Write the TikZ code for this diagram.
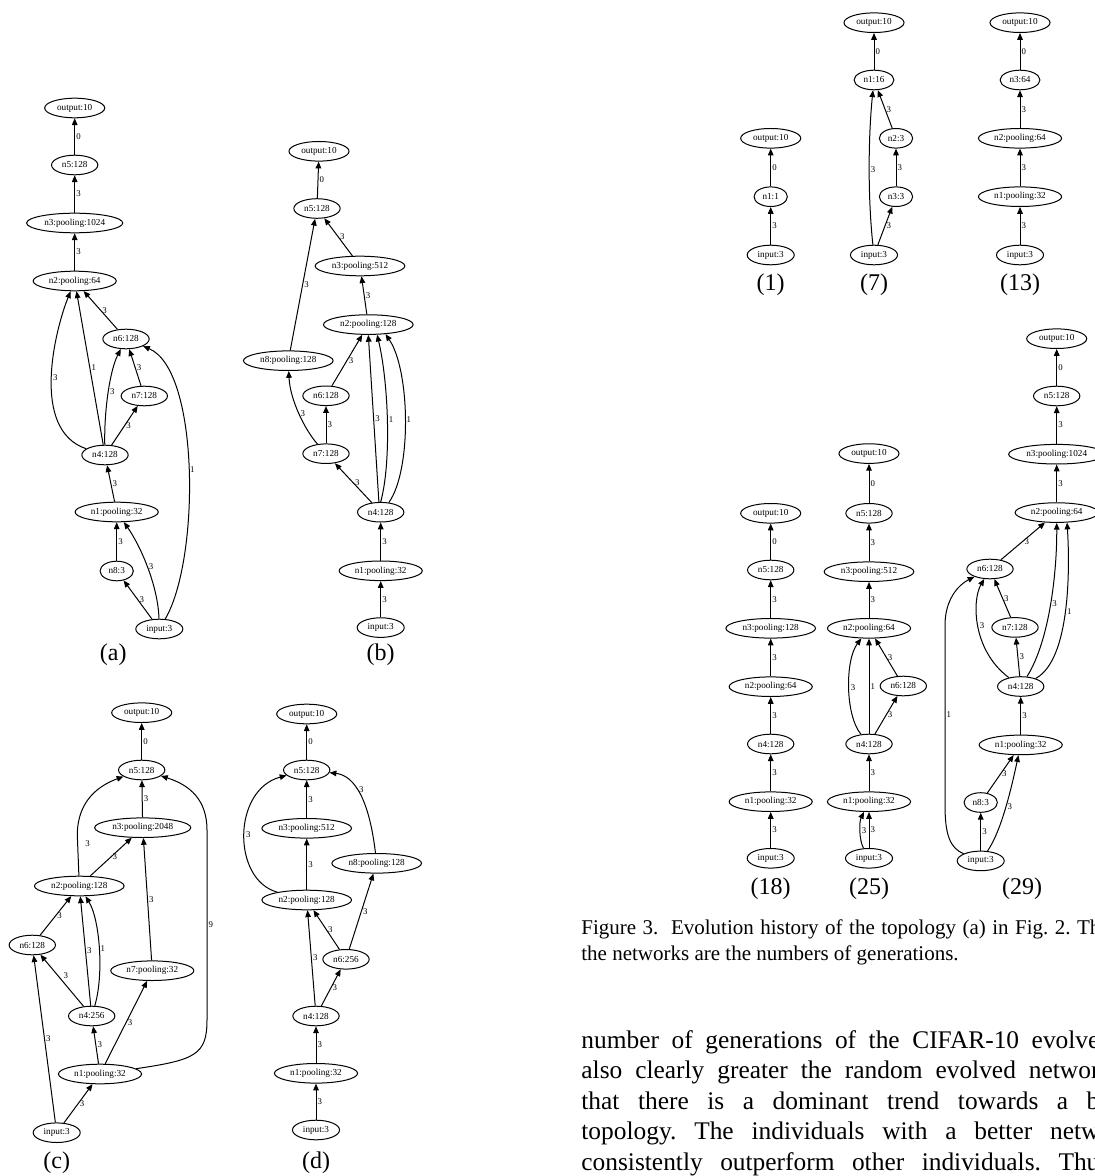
\documentclass[tikz,border=0pt]{standalone}
\usepackage{fontspec}
\setmainfont{Liberation Serif}
\usetikzlibrary{shapes.geometric,arrows.meta}
\frenchspacing

\begin{document}
\begin{tikzpicture}[x=0.5pt,y=-0.5pt,
  nd/.style={draw,ellipse,line width=0.5pt,inner xsep=1.8pt,inner ysep=0pt,minimum height=9.8pt,font=\fontsize{4.6}{5}\selectfont},
  lnk/.style={-{Triangle[length=3.4pt,width=2.8pt]},line width=0.5pt},
  wt/.style={anchor=west,inner sep=0.6pt,font=\fontsize{4.4}{5}\selectfont},
  sub/.style={inner sep=0pt,font=\fontsize{12}{14}\selectfont},
  captxt/.style={anchor=base west,inner sep=0pt,font=\fontsize{10.5}{12}\selectfont},
  bodytxt/.style={anchor=base west,inner sep=0pt,font=\fontsize{12.7}{14}\selectfont}]
\useasboundingbox (0,0) rectangle (1095,1176);
\clip (0,0) rectangle (1095,1176);

% (a)
\node[nd] (a-out) at (74.7,108) {output:10};
\node[nd] (a-n5) at (74.7,165) {n5:128};
\node[nd] (a-n3) at (74.7,223) {n3:pooling:1024};
\node[nd] (a-n2) at (74.7,281) {n2:pooling:64};
\node[nd] (a-n6) at (126,339) {n6:128};
\node[nd] (a-n7) at (144.3,396) {n7:128};
\node[nd] (a-n4) at (105,455) {n4:128};
\node[nd] (a-n1) at (116.7,512) {n1:pooling:32};
\node[nd] (a-n8) at (116.7,571) {n8:3};
\node[nd] (a-in) at (159.3,629) {input:3};
\node[sub] (a-lbl) at (113.3,655) {(a)};
\draw[lnk] (a-n5) -- node[wt]{0} (a-out);
\draw[lnk] (a-n3) -- node[wt]{3} (a-n5);
\draw[lnk] (a-n2) -- node[wt]{3} (a-n3);
\draw[lnk] (a-n6) -- node[wt]{3} (a-n2);
\draw[lnk] (a-n4) .. controls (30,430) and (55,330) .. node[wt]{3} (a-n2);
\draw[lnk] (a-n4) -- node[wt]{1} (a-n2);
\draw[lnk] (a-n4) .. controls (104,410) and (110,370) .. node[wt]{3} (a-n6);
\draw[lnk] (a-n7) -- node[wt]{3} (a-n6);
\draw[lnk] (a-n4) -- node[wt]{3} (a-n7);
\draw[lnk] (a-in) .. controls (200,560) and (200,370) .. node[wt]{1} (a-n6);
\draw[lnk] (a-n1) -- node[wt]{3} (a-n4);
\draw[lnk] (a-n8) -- node[wt]{3} (a-n1);
\draw[lnk] (a-in) .. controls (158,585) and (140,545) .. node[wt]{3} (a-n1);
\draw[lnk] (a-in) -- node[wt]{3} (a-n8);

% (b)
\node[nd] (b-out) at (319,151.3) {output:10};
\node[nd] (b-n5) at (317,208.5) {n5:128};
\node[nd] (b-n3) at (360,266) {n3:pooling:512};
\node[nd] (b-n2) at (368.3,324.6) {n2:pooling:128};
\node[nd] (b-n8) at (288.3,360.7) {n8:pooling:128};
\node[nd] (b-n6) at (326,395.8) {n6:128};
\node[nd] (b-n7) at (326,453.7) {n7:128};
\node[nd] (b-n4) at (380.7,512.2) {n4:128};
\node[nd] (b-n1) at (380.7,570.8) {n1:pooling:32};
\node[nd] (b-in) at (380.7,627.6) {input:3};
\node[sub] (b-lbl) at (380.7,655) {(b)};
\draw[lnk] (b-n5) -- node[wt]{0} (b-out);
\draw[lnk] (b-n3) -- node[wt]{3} (b-n5);
\draw[lnk] (b-n2) -- node[wt]{3} (b-n3);
\draw[lnk] (b-n8) -- node[wt]{3} (b-n5);
\draw[lnk] (b-n6) -- node[wt]{3} (b-n2);
\draw[lnk] (b-n7) .. controls (305,430) and (290,400) .. node[wt]{3} (b-n8);
\draw[lnk] (b-n7) -- node[wt]{3} (b-n6);
\draw[lnk] (b-n4) -- node[wt]{3} (b-n7);
\draw[lnk] (b-n4.100) -- node[wt]{3} (b-n2.south);
\draw[lnk] (b-n4.north) .. controls (392,460) and (388,380) .. node[wt]{1} (b-n2.-49);
\draw[lnk] (b-n4.50) .. controls (412,470) and (410,370) .. node[wt]{1} (b-n2.-29);
\draw[lnk] (b-n1) -- node[wt]{3} (b-n4);
\draw[lnk] (b-in) -- node[wt]{3} (b-n1);

% (c)
\node[nd] (c-out) at (141.7,712.7) {output:10};
\node[nd] (c-n5) at (141.7,770) {n5:128};
\node[nd] (c-n3) at (142.7,827.7) {n3:pooling:2048};
\node[nd] (c-n2) at (79.3,886) {n2:pooling:128};
\node[nd] (c-n6) at (32.3,945) {n6:128};
\node[nd] (c-n7) at (152.3,970.7) {n7:pooling:32};
\node[nd] (c-n4) at (91.7,1016) {n4:256};
\node[nd] (c-n1) at (100,1074) {n1:pooling:32};
\node[nd] (c-in) at (56.7,1132.7) {input:3};
\node[sub] (c-lbl) at (56.7,1163) {(c)};
\draw[lnk] (c-n5) -- node[wt]{0} (c-out);
\draw[lnk] (c-n3) -- node[wt]{3} (c-n5);
\draw[lnk] (c-n2) -- node[wt,pos=.8,xshift=3pt]{3} (77.3,835) .. controls (77.3,800) and (100,785) .. (c-n5);
\draw[lnk] (c-n2) -- node[wt]{3} (c-n3);
\draw[lnk] (c-n6) -- node[wt]{3} (c-n2);
\draw[lnk] (c-n4) -- node[wt]{3} (c-n2);
\draw[lnk] (c-n4) .. controls (104,975) and (100,920) .. node[wt]{1} (c-n2);
\draw[lnk] (c-n4) -- node[wt,anchor=south west]{3} (c-n6);
\draw[lnk] (c-n7) -- node[wt]{3} (c-n3);
\draw[lnk] (c-n1) -- node[wt]{3} (c-n4);
\draw[lnk] (c-n1) -- node[wt]{3} (c-n7);
\draw[lnk] (c-n1) .. controls (195,1060) and (207,1055) .. (207,1020) -- node[wt]{9} (207,830) .. controls (207,800) and (190,785) .. (c-n5);
\draw[lnk] (c-in) -- node[wt]{3} (c-n6);
\draw[lnk] (c-in) -- node[wt]{3} (c-n1);

% (d)
\node[nd] (d-out) at (306.7,714) {output:10};
\node[nd] (d-n5) at (306.7,770) {n5:128};
\node[nd] (d-n3) at (306.7,828.3) {n3:pooling:512};
\node[nd] (d-n8) at (376.7,863.3) {n8:pooling:128};
\node[nd] (d-n2) at (306.7,900) {n2:pooling:128};
\node[nd] (d-n6) at (346,959.3) {n6:256};
\node[nd] (d-n4) at (316,1016) {n4:128};
\node[nd] (d-n1) at (316,1073.3) {n1:pooling:32};
\node[nd] (d-in) at (316,1130) {input:3};
\node[sub] (d-lbl) at (316,1163) {(d)};
\draw[lnk] (d-n5) -- node[wt]{0} (d-out);
\draw[lnk] (d-n3) -- node[wt]{3} (d-n5);
\draw[lnk] (d-n2) -- node[wt]{3} (d-n3);
\draw[lnk] (d-n2) .. controls (232,880) and (232,790) .. node[wt]{3} (d-n5);
\draw[lnk] (d-n8) .. controls (368,790) and (350,775) .. node[wt]{3} (d-n5);
\draw[lnk] (d-n6) -- node[wt]{3} (d-n2);
\draw[lnk] (d-n6) -- node[wt]{3} (d-n8);
\draw[lnk] (d-n4) -- node[wt]{3} (d-n2);
\draw[lnk] (d-n4) -- node[wt]{3} (d-n6);
\draw[lnk] (d-n1) -- node[wt]{3} (d-n4);
\draw[lnk] (d-in) -- node[wt]{3} (d-n1);

% (1)
\node[nd] (g1-out) at (770.7,138.3) {output:10};
\node[nd] (g1-n1) at (770.7,196.7) {n1:1};
\node[nd] (g1-in) at (770.7,255) {input:3};
\node[sub] (g1-lbl) at (770.7,285) {(1)};
\draw[lnk] (g1-n1) -- node[wt]{0} (g1-out);
\draw[lnk] (g1-in) -- node[wt]{3} (g1-n1);

% (7)
\node[nd] (g7-out) at (874,22.7) {output:10};
\node[nd] (g7-n1) at (874,80) {n1:16};
\node[nd] (g7-n2) at (896,138.3) {n2:3};
\node[nd] (g7-n3) at (896,196.7) {n3:3};
\node[nd] (g7-in) at (874,255) {input:3};
\node[sub] (g7-lbl) at (874,285) {(7)};
\draw[lnk] (g7-n1) -- node[wt]{0} (g7-out);
\draw[lnk] (g7-n2) -- node[wt]{3} (g7-n1);
\draw[lnk] (g7-n3) -- node[wt]{3} (g7-n2);
\draw[lnk] (g7-in) -- node[wt]{3} (g7-n3);
\draw[lnk] (g7-in) .. controls (868,200) and (868,140) .. node[wt]{3} (g7-n1);

% (13)
\node[nd] (g13-out) at (1020,22.7) {output:10};
\node[nd] (g13-n3) at (1020,80) {n3:64};
\node[nd] (g13-n2) at (1020,138.3) {n2:pooling:64};
\node[nd] (g13-n1) at (1020,196.7) {n1:pooling:32};
\node[nd] (g13-in) at (1020,255) {input:3};
\node[sub] (g13-lbl) at (1020,285) {(13)};
\draw[lnk] (g13-n3) -- node[wt]{0} (g13-out);
\draw[lnk] (g13-n2) -- node[wt]{3} (g13-n3);
\draw[lnk] (g13-n1) -- node[wt]{3} (g13-n2);
\draw[lnk] (g13-in) -- node[wt]{3} (g13-n1);

% (18)
\node[nd] (g18-out) at (770.7,513.3) {output:10};
\node[nd] (g18-n5) at (770.7,570) {n5:128};
\node[nd] (g18-n3) at (770.7,628.3) {n3:pooling:128};
\node[nd] (g18-n2) at (770.7,686.7) {n2:pooling:64};
\node[nd] (g18-n4) at (770.7,744) {n4:128};
\node[nd] (g18-n1) at (770.7,801.7) {n1:pooling:32};
\node[nd] (g18-in) at (770.7,858.3) {input:3};
\node[sub] (g18-lbl) at (770.7,889) {(18)};
\draw[lnk] (g18-n5) -- node[wt]{0} (g18-out);
\draw[lnk] (g18-n3) -- node[wt]{3} (g18-n5);
\draw[lnk] (g18-n2) -- node[wt]{3} (g18-n3);
\draw[lnk] (g18-n4) -- node[wt]{3} (g18-n2);
\draw[lnk] (g18-n1) -- node[wt]{3} (g18-n4);
\draw[lnk] (g18-in) -- node[wt]{3} (g18-n1);

% (25)
\node[nd] (g25-out) at (869,453.6) {output:10};
\node[nd] (g25-n5) at (869,513.3) {n5:128};
\node[nd] (g25-n3) at (869,571.7) {n3:pooling:512};
\node[nd] (g25-n2) at (869,628.3) {n2:pooling:64};
\node[nd] (g25-n6) at (903.3,686) {n6:128};
\node[nd] (g25-n4) at (869,744) {n4:128};
\node[nd] (g25-n1) at (869,801.7) {n1:pooling:32};
\node[nd] (g25-in) at (869,858.3) {input:3};
\node[sub] (g25-lbl) at (869,889) {(25)};
\draw[lnk] (g25-n5) -- node[wt]{0} (g25-out);
\draw[lnk] (g25-n3) -- node[wt]{3} (g25-n5);
\draw[lnk] (g25-n2) -- node[wt]{3} (g25-n3);
\draw[lnk] (g25-n4) .. controls (845,715) and (845,660) .. node[wt]{3} (g25-n2);
\draw[lnk] (g25-n4) -- node[wt]{1} (g25-n2);
\draw[lnk] (g25-n6) -- node[wt]{3} (g25-n2);
\draw[lnk] (g25-n4) -- node[wt]{3} (g25-n6);
\draw[lnk] (g25-n1) -- node[wt]{3} (g25-n4);
\draw[lnk] (g25-in) .. controls (859,840) and (859,822) .. node[wt]{3} (g25-n1);
\draw[lnk] (g25-in) -- node[wt]{3} (g25-n1);

% (29)
\node[nd] (g29-out) at (1056.7,338.7) {output:10};
\node[nd] (g29-n5) at (1056.7,396) {n5:128};
\node[nd] (g29-n3) at (1056.7,454.2) {n3:pooling:1024};
\node[nd] (g29-n2) at (1056.7,512.6) {n2:pooling:64};
\node[nd] (g29-n6) at (990,569) {n6:128};
\node[nd] (g29-n7) at (1015,627.4) {n7:128};
\node[nd] (g29-n4) at (1020.7,686.5) {n4:128};
\node[nd] (g29-n1) at (1020.7,744.9) {n1:pooling:32};
\node[nd] (g29-n8) at (980.7,802.5) {n8:3};
\node[nd] (g29-in) at (980.7,860.9) {input:3};
\node[sub] (g29-lbl) at (1022,889) {(29)};
\draw[lnk] (g29-n5) -- node[wt]{0} (g29-out);
\draw[lnk] (g29-n3) -- node[wt]{3} (g29-n5);
\draw[lnk] (g29-n2) -- node[wt]{3} (g29-n3);
\draw[lnk] (g29-n6) -- node[wt]{3} (g29-n2);
\draw[lnk] (g29-n7) -- node[wt]{3} (g29-n6);
\draw[lnk] (g29-n4) .. controls (972,650) and (972,600) .. node[wt]{3} (g29-n6);
\draw[lnk] (g29-n4) -- node[wt]{3} (g29-n7);
\draw[lnk] (g29-n4) .. controls (1050,640) and (1057,570) .. node[wt]{3} (g29-n2.south);
\draw[lnk] (g29-n4) .. controls (1070,660) and (1070,570) .. node[wt]{1} (g29-n2.-44);
\draw[lnk] (g29-in) .. controls (950,848) and (945,835) .. (945,805) -- node[wt]{1} (945,625) .. controls (945,600) and (958,585) .. (g29-n6);
\draw[lnk] (g29-n1) -- node[wt]{3} (g29-n4);
\draw[lnk] (g29-n8) -- node[wt]{3} (g29-n1);
\draw[lnk] (g29-in) .. controls (1002,830) and (1012,785) .. node[wt]{3} (g29-n1);
\draw[lnk] (g29-in) -- node[wt]{3} (g29-n8);

% caption and running text
\node[captxt] (cap1) at (581,934) {\makebox[259.5pt][s]{Figure 3.\hspace{0.6em}Evolution history of the topology (a) in Fig. 2. Th}};
\node[captxt] (cap2) at (581,960) {the networks are the numbers of generations.};
\node[bodytxt] (body1) at (581,1048) {\makebox[259pt][s]{number of generations of the CIFAR-10 evolve}};
\node[bodytxt] (body2) at (581,1078.5) {\makebox[259pt][s]{also clearly greater the random evolved networ}};
\node[bodytxt] (body3) at (581,1109) {\makebox[259pt][s]{that there is a dominant trend towards a b}};
\node[bodytxt] (body4) at (581,1139.5) {\makebox[259pt][s]{topology. The individuals with a better netw}};
\node[bodytxt] (body5) at (581,1170) {\makebox[259pt][s]{consistently outperform other individuals. Thu}};
\end{tikzpicture}
\end{document}
